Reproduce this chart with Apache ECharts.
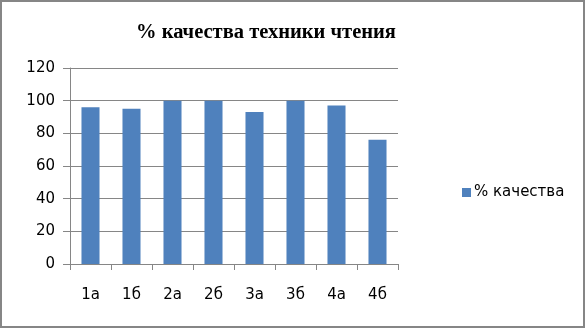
<!DOCTYPE html>
<html><head><meta charset="utf-8">
<script src="https://cdn.jsdelivr.net/npm/echarts@6/dist/echarts.min.js"></script>
<style>
html,body{margin:0;padding:0;background:#fff;}
#wrap{position:absolute;left:0;top:0;width:581px;height:324px;border:2px solid #868686;}
#c{width:581px;height:324px;}
</style></head>
<body><div id="wrap"><div id="c"></div></div>
<script>
var categories = ['1а','1б','2а','2б','3а','3б','4а','4б'];
var values = [96, 95, 100, 100, 93, 100, 97, 76];
var seriesName = '% качества';
var titleText = '% качества техники чтения';

var chart = echarts.init(document.getElementById('c'));
chart.setOption({
  animation:false,
  title:{text:titleText, left:259, top:15, textAlign:'center',
    textStyle:{fontFamily:'Liberation Serif', fontWeight:'bold', fontSize:20.5, color:'#000'}},
  legend:{orient:'vertical', left:455, top:178, itemWidth:9, itemHeight:9, itemGap:4,
    icon:'rect',
    textStyle:{fontFamily:'DejaVu Sans', fontSize:15, color:'#000', padding:[0,0,0,-2]},
    data:[seriesName]},
  grid:{left:68, right:185, top:66, bottom:62},
  xAxis:{type:'category', data:categories,
    axisLine:{lineStyle:{color:'#868686', width:1}},
    axisTick:{show:true, length:6, lineStyle:{color:'#868686'}},
    axisLabel:{fontFamily:'DejaVu Sans', fontSize:15, color:'#000', margin:24}},
  yAxis:{type:'value', min:0, max:120, interval:20,
    axisLine:{show:true, lineStyle:{color:'#868686'}},
    axisTick:{show:true, length:7, lineStyle:{color:'#868686'}},
    splitLine:{lineStyle:{color:'#868686'}},
    axisLabel:{fontFamily:'DejaVu Sans', fontSize:15, color:'#000', margin:15}},
  series:[{name:seriesName, type:'bar', data:values, barWidth:'44%',
    itemStyle:{color:'#4F81BD'}}]
});
</script></body></html>
